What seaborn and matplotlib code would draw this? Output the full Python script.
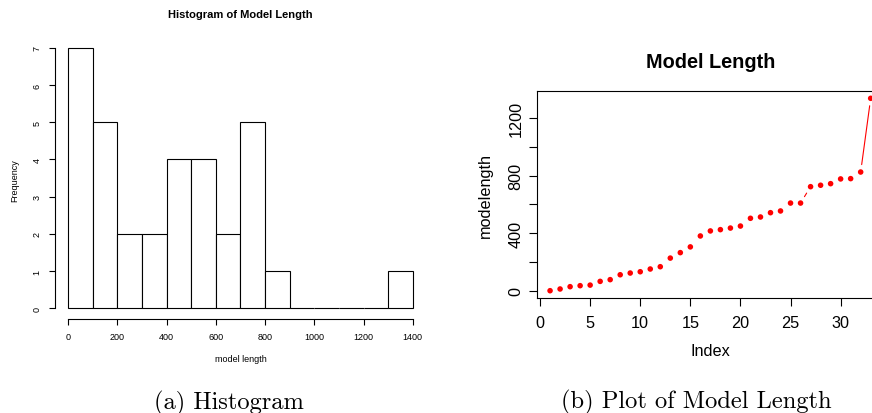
import numpy as np
import matplotlib
matplotlib.use("Agg")
import matplotlib.pyplot as plt
import seaborn as sns

# ---------------------------------------------------------------------
# data (sorted model lengths, index 1..33)
# ---------------------------------------------------------------------
model_length = [0, 12, 28, 35, 39, 65, 77, 111, 123, 132, 151, 167, 227, 265, 305,
                381, 416, 425, 436, 450, 504, 513, 543, 555, 610, 610, 724, 734,
                745, 778, 780, 826, 1339]
index = list(range(1, len(model_length) + 1))
hist_bins = list(range(0, 1500, 100))
hist_xticks = list(range(0, 1600, 200))
hist_yticks = list(range(0, 8))
idx_xticks = list(range(0, 35, 5))
len_yticks = list(range(0, 1400, 200))
len_ylabels = ["0", "", "400", "", "800", "", "1200"]

sns.set_style("ticks")
plt.rcParams["font.family"] = ["Liberation Sans", "DejaVu Sans"]
plt.rcParams["axes.linewidth"] = 0.8
for k in ["text.color", "axes.labelcolor", "xtick.color", "ytick.color", "axes.edgecolor"]:
    plt.rcParams[k] = "black"

fig = plt.figure(figsize=(8.72, 4.14), dpi=100)

# ---------------------------------------------------------------------
# (a) histogram
# ---------------------------------------------------------------------
ax1 = fig.add_axes([0.0625, 0.2278, 0.4266, 0.6797])
sns.histplot(x=model_length, bins=hist_bins, ax=ax1, color="white",
             edgecolor="black", linewidth=0.8, alpha=1)
ax1.set_xlim(-56, 1456)
ax1.set_ylim(-0.28, 7.28)
ax1.set_xticks(hist_xticks)
ax1.set_yticks(hist_yticks)
for s in ["top", "right"]:
    ax1.spines[s].set_visible(False)
ax1.spines["bottom"].set_bounds(0, 1400)
ax1.spines["left"].set_bounds(0, 7)
ax1.tick_params(labelsize=6.5, length=4.3, width=0.8, pad=5)
plt.setp(ax1.get_yticklabels(), rotation=90, va="center")
ax1.set_title("Histogram of Model Length", fontsize=8, fontweight="bold",
              y=1.083, va="center", pad=0)
ax1.set_xlabel("model length", fontsize=6.5)
ax1.set_ylabel("Frequency", fontsize=6.5)
ax1.xaxis.set_label_coords(0.5, -0.143)
ax1.xaxis.label.set_va("center")
ax1.yaxis.set_label_coords(-0.106, 0.493)
ax1.yaxis.label.set_va("center")

# ---------------------------------------------------------------------
# (b) index plot, R type="b" style (points + gapped segments)
# ---------------------------------------------------------------------
ax2 = fig.add_axes([0.6161, 0.2768, 0.3971, 0.5019])
ax2.set_xlim(-0.28, 34.28)
ax2.set_ylim(-53.56, 1392.56)
sns.scatterplot(x=index, y=model_length, ax=ax2, color="red", s=16,
                edgecolor="none", zorder=3, clip_on=False)

# segments with gaps around each point (gap in pixels)
gap = 7.5
pts = ax2.transData.transform(np.column_stack([index, model_length]))
inv = ax2.transData.inverted()
for p0, p1 in zip(pts[:-1], pts[1:]):
    d = p1 - p0
    L = np.hypot(*d)
    if L <= 2 * gap:
        continue
    u = d / L
    a = inv.transform(p0 + u * gap)
    b = inv.transform(p1 - u * gap)
    ax2.plot([a[0], b[0]], [a[1], b[1]], color="red", lw=0.8)

ax2.set_xticks(idx_xticks)
ax2.set_yticks(len_yticks)
ax2.set_yticklabels(len_ylabels)
for s in ax2.spines.values():
    s.set_visible(True)
ax2.tick_params(labelsize=11.7, length=5.8, width=0.8, pad=4)
ax2.tick_params(axis="x", pad=6)
plt.setp(ax2.get_yticklabels(), rotation=90, va="center")
ax2.set_title("Model Length", fontsize=14.3, fontweight="bold",
              y=1.1425, va="center", pad=0)
ax2.set_xlabel("Index", fontsize=11.7)
ax2.set_ylabel("modelength", fontsize=11.7)
ax2.xaxis.set_label_coords(0.5, -0.253)
ax2.xaxis.label.set_va("center")
ax2.yaxis.set_label_coords(-0.151, 0.498)
ax2.yaxis.label.set_va("center")

# captions
fig.text(229 / 872, 1 - 403 / 414, "(a) Histogram", family="cmr10",
         fontsize=17.6, ha="center", va="center")
fig.text(696 / 872, 1 - 402 / 414, "(b) Plot of Model Length", family="cmr10",
         fontsize=17.6, ha="center", va="center")

fig.savefig("out.png", dpi=100)
